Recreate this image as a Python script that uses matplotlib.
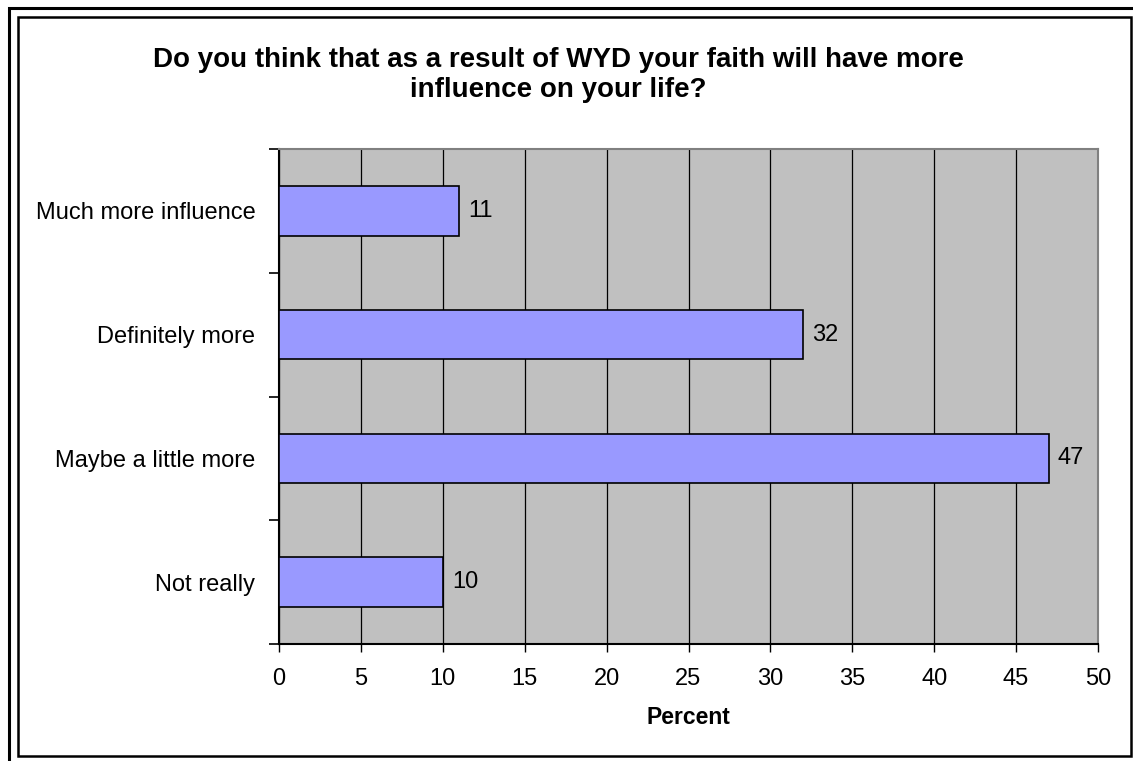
import matplotlib
matplotlib.use('Agg')
import matplotlib.pyplot as plt
from matplotlib.patches import Rectangle

# data
categories = ['Not really', 'Maybe a little more', 'Definitely more', 'Much more influence']
values = [10, 47, 32, 11]
xticks = list(range(0, 55, 5))

plt.rcParams['font.family'] = ['Liberation Sans', 'DejaVu Sans']

fig = plt.figure(figsize=(11.33, 7.61), dpi=100)
W, H = 1133, 761

# outer and inner frames
fig.patches.append(Rectangle((9 / W, 1 - 1200 / H), 1200 / W, (1200 - 8) / H,
                             transform=fig.transFigure, fill=False, lw=2.2, ec='black'))
fig.patches.append(Rectangle((18 / W, 1 - 756 / H), (1131 - 18) / W, (756 - 17) / H,
                             transform=fig.transFigure, fill=False, lw=1.8, ec='black'))

ax = fig.add_axes([279 / W, 1 - 644 / H, (1098 - 279) / W, (644 - 149) / H])
ax.set_facecolor('#C0C0C0')

ypos = list(range(len(categories)))
ax.barh(ypos, values, height=0.4, color='#9999FF', edgecolor='black', linewidth=1.2, zorder=3)
for y, v in zip(ypos, values):
    ax.text(v + 0.55, y, str(v), va='center', ha='left', fontsize=17, zorder=4)

ax.set_xlim(0, 50)
ax.set_ylim(-0.5, len(categories) - 0.5)
ax.set_xticks(xticks)
ax.set_xticklabels([str(t) for t in xticks], fontsize=17)
ax.xaxis.grid(True, color='black', linewidth=0.9, zorder=1)
ax.set_axisbelow(True)

# y ticks at category boundaries, labels at centers
ax.set_yticks([i - 0.5 for i in range(len(categories) + 1)])
ax.set_yticklabels([])
ax.set_yticks(ypos, minor=True)
ax.set_yticklabels(categories, minor=True, fontsize=17)
ax.tick_params(axis='y', which='minor', length=0, pad=17)
ax.tick_params(axis='y', which='major', length=7, width=1.2, direction='out')
ax.tick_params(axis='x', length=6, width=1.0, direction='out', pad=11)

for s in ['top', 'right']:
    ax.spines[s].set_color('#808080')
    ax.spines[s].set_linewidth(1.5)
for s in ['left', 'bottom']:
    ax.spines[s].set_color('black')
    ax.spines[s].set_linewidth(1.5)

ax.set_xlabel('Percent', fontsize=16.5, fontweight='bold', labelpad=12)

fig.text(0.493, 1 - 75 / H,
         'Do you think that as a result of WYD your faith will have more\ninfluence on your life?',
         ha='center', va='center', fontsize=20, fontweight='bold', linespacing=1.2)

fig.savefig('out.png', dpi=100)
